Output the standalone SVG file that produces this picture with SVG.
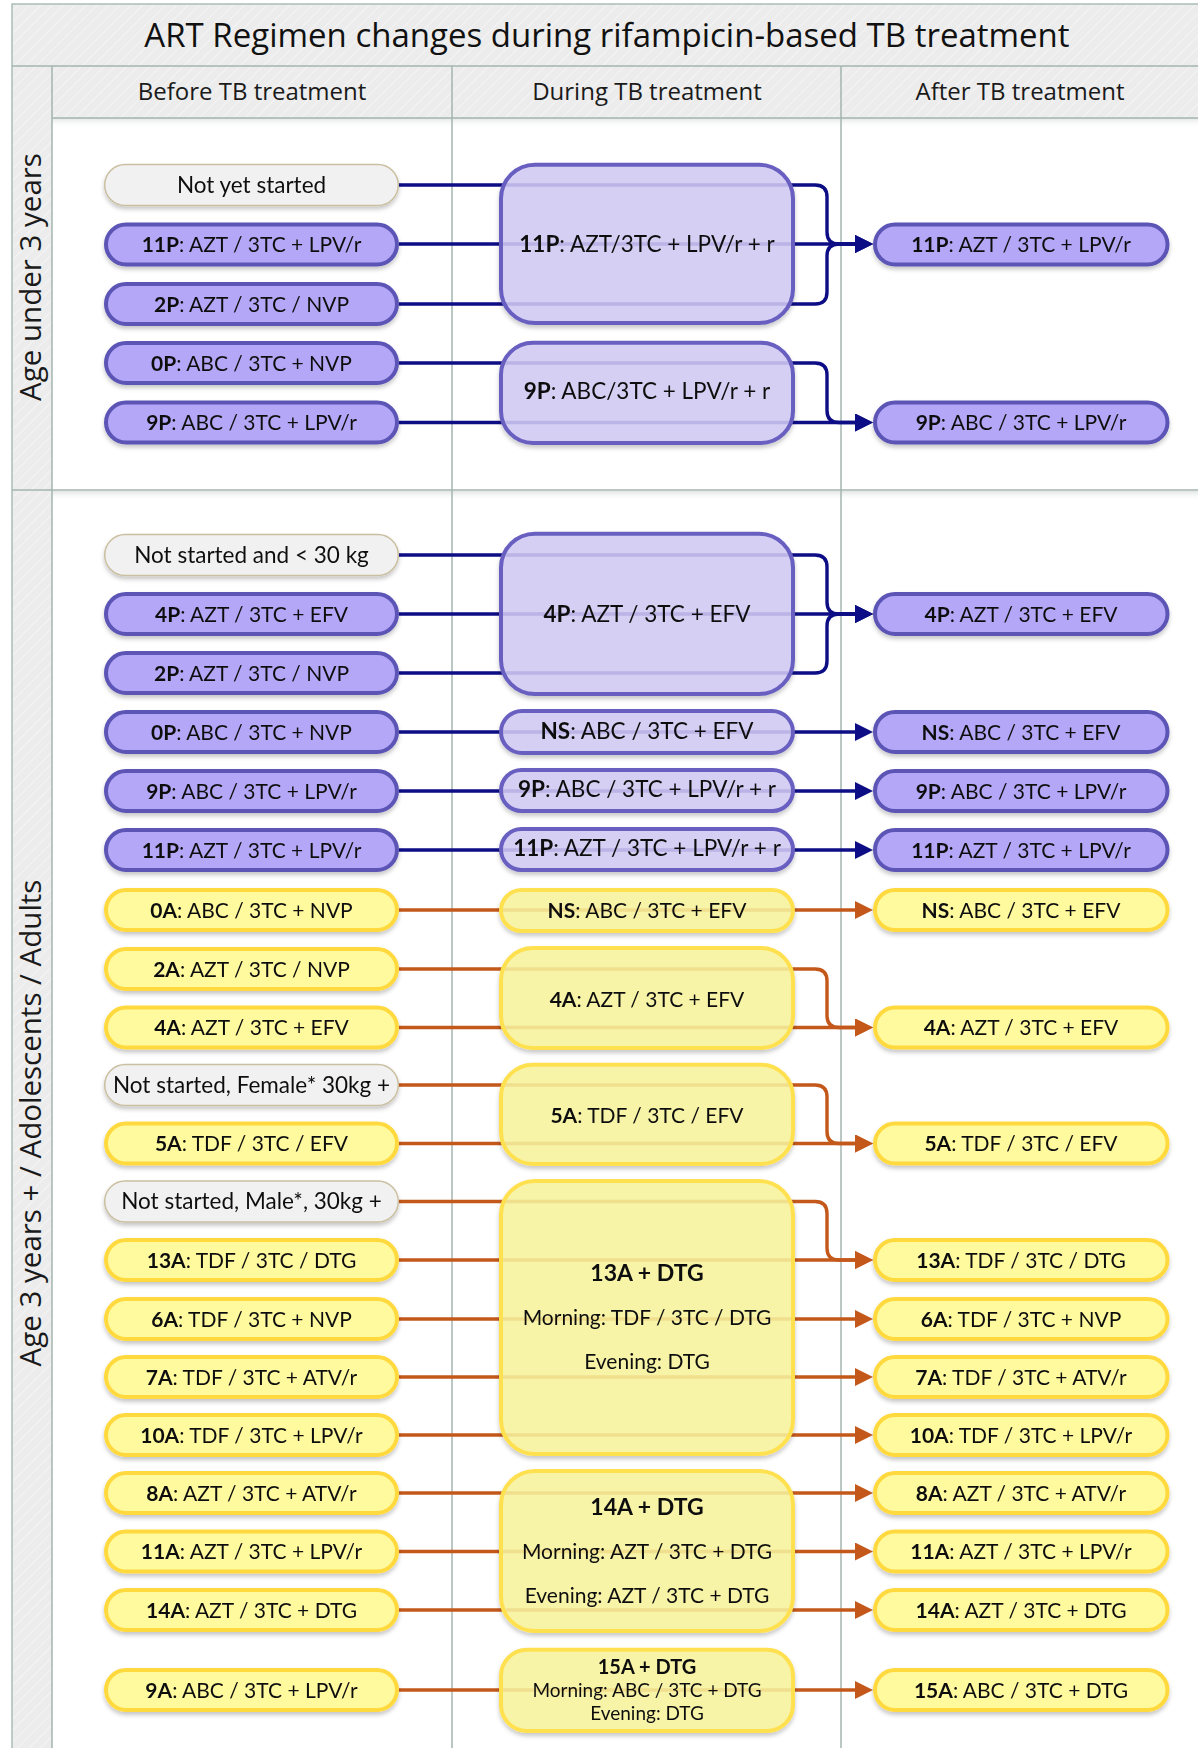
<svg xmlns="http://www.w3.org/2000/svg" width="1198" height="1748" viewBox="0 0 1198 1748">
<style>
.frame{fill:none;stroke:#A9BDB6;stroke-width:1.5}
.div{stroke:#A3B5AF;stroke-width:1.5}
.ttl{font-family:"Open Sans","DejaVu Sans",sans-serif;font-size:33px;fill:#111;text-anchor:middle}
.hdr{font-family:"Open Sans","DejaVu Sans",sans-serif;font-size:24px;fill:#1a1a1a;text-anchor:middle}
.lane{font-family:"Open Sans","DejaVu Sans",sans-serif;font-size:29.5px;fill:#1a1a1a;text-anchor:middle}
.t{font-family:Lato,"Liberation Sans",sans-serif;font-size:21px;fill:#111;text-anchor:middle}
.tg{font-size:22.5px}
.tm{font-size:22.5px}
.th{font-size:23px;font-weight:bold}
.ts{font-size:19px}
.ths{font-size:20px;font-weight:bold}
.b{font-weight:bold}
.pp{fill:#B4A7F8;stroke:#5B54B5;stroke-width:4}
.pm{fill:#D4CCF6;fill-opacity:0.86;stroke:#675FC0;stroke-width:4}
.yp{fill:#FFFA9E;stroke:#FFD93C;stroke-width:4}
.ym{fill:#F9F59E;fill-opacity:0.86;stroke:#FFE050;stroke-width:4}
.gp{fill:#F1F1F1;stroke:#CABFA0;stroke-width:1.5}
.nv{fill:none;stroke:#0D0D85;stroke-width:3.4;marker-end:url(#an)}
.or{fill:none;stroke:#C4581B;stroke-width:3.4;marker-end:url(#ao)}
.sh{filter:url(#shadow)}
</style>
<defs>
<pattern id="hatch" width="8" height="8" patternUnits="userSpaceOnUse" patternTransform="rotate(45)">
<rect width="8" height="8" fill="#ECECEC"/>
<line x1="0" y1="0" x2="0" y2="8" stroke="#F4F4F4" stroke-width="2"/>
</pattern>
<linearGradient id="hsh" x1="0" y1="0" x2="0" y2="1">
<stop offset="0" stop-color="#E2E6E4"/>
<stop offset="1" stop-color="#FFFFFF" stop-opacity="0"/>
</linearGradient>
<marker id="an" viewBox="0 0 10 10" refX="0" refY="5" markerWidth="18" markerHeight="18" markerUnits="userSpaceOnUse" orient="auto">
<path d="M0,0 L10,5 L0,10 z" fill="#0D0D85"/>
</marker>
<marker id="ao" viewBox="0 0 10 10" refX="0" refY="5" markerWidth="18" markerHeight="18" markerUnits="userSpaceOnUse" orient="auto">
<path d="M0,0 L10,5 L0,10 z" fill="#C4581B"/>
</marker>
<filter id="shadow" x="-10%" y="-20%" width="120%" height="150%">
<feDropShadow dx="0" dy="3" stdDeviation="2" flood-color="#000" flood-opacity="0.22"/>
</filter>
</defs>

<rect width="1198" height="1748" fill="#FFFFFF"/>

<g id="swimlanes">
<rect x="12" y="4" width="1186" height="62" fill="url(#hatch)"/>
<rect x="52" y="66" width="1146" height="52" fill="url(#hatch)"/>
<rect x="12" y="66" width="40" height="1682" fill="url(#hatch)"/>
<rect x="52" y="118" width="1146" height="10" fill="url(#hsh)"/>
<rect x="52" y="491" width="1146" height="10" fill="url(#hsh)"/>
<path class="frame" d="M12,1748 V4 H1198"/>
<line class="div" x1="12" y1="66" x2="1198" y2="66"/>
<line class="div" x1="52" y1="118" x2="1198" y2="118"/>
<line class="div" x1="52" y1="66" x2="52" y2="1748"/>
<line class="div" x1="452" y1="66" x2="452" y2="1748"/>
<line class="div" x1="841" y1="66" x2="841" y2="1748"/>
<line class="div" x1="12" y1="490" x2="1198" y2="490"/>
<text class="ttl" x="607" y="47">ART Regimen changes during rifampicin-based TB treatment</text>
<text class="hdr" x="252" y="100">Before TB treatment</text>
<text class="hdr" x="647" y="100">During TB treatment</text>
<text class="hdr" x="1020" y="100">After TB treatment</text>
<text class="lane" transform="translate(41,277) rotate(-90)">Age under 3 years</text>
<text class="lane" transform="translate(41,1123) rotate(-90)">Age 3 years + / Adolescents / Adults</text>
</g>

<g id="connectors">
<path class="nv" d="M399,185 H815 Q827,185 827,197 V232 Q827,244 839,244 H855"/>
<path class="nv" d="M399,244 H855"/>
<path class="nv" d="M399,304 H815 Q827,304 827,292 V256 Q827,244 839,244 H855"/>
<path class="nv" d="M399,363 H815 Q827,363 827,375 V410.5 Q827,422.5 839,422.5 H855"/>
<path class="nv" d="M399,422.5 H855"/>
<path class="nv" d="M399,555 H815 Q827,555 827,567 V602 Q827,614 839,614 H855"/>
<path class="nv" d="M399,614 H855"/>
<path class="nv" d="M399,673 H815 Q827,673 827,661 V626 Q827,614 839,614 H855"/>
<path class="nv" d="M399,732 H855"/>
<path class="nv" d="M399,791 H855"/>
<path class="nv" d="M399,850 H855"/>
<path class="or" d="M399,910 H855"/>
<path class="or" d="M399,969 H815 Q827,969 827,981 V1015.5 Q827,1027.5 839,1027.5 H855"/>
<path class="or" d="M399,1027.5 H855"/>
<path class="or" d="M399,1085 H815 Q827,1085 827,1097 V1131.5 Q827,1143.5 839,1143.5 H855"/>
<path class="or" d="M399,1143.5 H855"/>
<path class="or" d="M399,1201.5 H815 Q827,1201.5 827,1213.5 V1248 Q827,1260 839,1260 H855"/>
<path class="or" d="M399,1260 H855"/>
<path class="or" d="M399,1319 H855"/>
<path class="or" d="M399,1377 H855"/>
<path class="or" d="M399,1435 H855"/>
<path class="or" d="M399,1493 H855"/>
<path class="or" d="M399,1551.5 H855"/>
<path class="or" d="M399,1610 H855"/>
<path class="or" d="M399,1690 H855"/>
</g>

<!-- Before column -->
<g id="b-notyet" class="sh"><rect class="gp" x="104.7" y="164.5" width="293.6" height="41" rx="20.5"/><text class="t tg" x="251.5" y="192.5">Not yet started</text></g>
<g id="b-11p" class="sh"><rect class="pp" x="106" y="224.5" width="291" height="40" rx="20"/><text class="t" x="251.5" y="252"><tspan class="b">11P</tspan>: AZT / 3TC + LPV/r</text></g>
<g id="b-2p" class="sh"><rect class="pp" x="106" y="284" width="291" height="40" rx="20"/><text class="t" x="251.5" y="311.5"><tspan class="b">2P</tspan>: AZT / 3TC / NVP</text></g>
<g id="b-0p" class="sh"><rect class="pp" x="106" y="343" width="291" height="40" rx="20"/><text class="t" x="251.5" y="370.5"><tspan class="b">0P</tspan>: ABC / 3TC + NVP</text></g>
<g id="b-9p" class="sh"><rect class="pp" x="106" y="402.5" width="291" height="40" rx="20"/><text class="t" x="251.5" y="430"><tspan class="b">9P</tspan>: ABC / 3TC + LPV/r</text></g>

<g id="b-ns30" class="sh"><rect class="gp" x="104.7" y="534.5" width="293.6" height="41" rx="20.5"/><text class="t tg" x="251.5" y="562.5">Not started and &lt; 30 kg</text></g>
<g id="b-4p" class="sh"><rect class="pp" x="106" y="594" width="291" height="40" rx="20"/><text class="t" x="251.5" y="621.5"><tspan class="b">4P</tspan>: AZT / 3TC + EFV</text></g>
<g id="b-2p2" class="sh"><rect class="pp" x="106" y="653" width="291" height="40" rx="20"/><text class="t" x="251.5" y="680.5"><tspan class="b">2P</tspan>: AZT / 3TC / NVP</text></g>
<g id="b-0p2" class="sh"><rect class="pp" x="106" y="712" width="291" height="40" rx="20"/><text class="t" x="251.5" y="739.5"><tspan class="b">0P</tspan>: ABC / 3TC + NVP</text></g>
<g id="b-9p2" class="sh"><rect class="pp" x="106" y="771" width="291" height="40" rx="20"/><text class="t" x="251.5" y="798.5"><tspan class="b">9P</tspan>: ABC / 3TC + LPV/r</text></g>
<g id="b-11p2" class="sh"><rect class="pp" x="106" y="830" width="291" height="40" rx="20"/><text class="t" x="251.5" y="857.5"><tspan class="b">11P</tspan>: AZT / 3TC + LPV/r</text></g>

<g id="b-0a" class="sh"><rect class="yp" x="106" y="890" width="291" height="40" rx="20"/><text class="t" x="251.5" y="917.5"><tspan class="b">0A</tspan>: ABC / 3TC + NVP</text></g>
<g id="b-2a" class="sh"><rect class="yp" x="106" y="949" width="291" height="40" rx="20"/><text class="t" x="251.5" y="976.5"><tspan class="b">2A</tspan>: AZT / 3TC / NVP</text></g>
<g id="b-4a" class="sh"><rect class="yp" x="106" y="1007.5" width="291" height="40" rx="20"/><text class="t" x="251.5" y="1035"><tspan class="b">4A</tspan>: AZT / 3TC + EFV</text></g>
<g id="b-nsf" class="sh"><rect class="gp" x="104.7" y="1064.5" width="293.6" height="41" rx="20.5"/><text class="t tg" x="251.5" y="1092.5">Not started, Female* 30kg +</text></g>
<g id="b-5a" class="sh"><rect class="yp" x="106" y="1123.5" width="291" height="40" rx="20"/><text class="t" x="251.5" y="1151"><tspan class="b">5A</tspan>: TDF / 3TC / EFV</text></g>
<g id="b-nsm" class="sh"><rect class="gp" x="104.7" y="1181" width="293.6" height="41" rx="20.5"/><text class="t tg" x="251.5" y="1209">Not started, Male*, 30kg +</text></g>
<g id="b-13a" class="sh"><rect class="yp" x="106" y="1240" width="291" height="40" rx="20"/><text class="t" x="251.5" y="1267.5"><tspan class="b">13A</tspan>: TDF / 3TC / DTG</text></g>
<g id="b-6a" class="sh"><rect class="yp" x="106" y="1299" width="291" height="40" rx="20"/><text class="t" x="251.5" y="1326.5"><tspan class="b">6A</tspan>: TDF / 3TC + NVP</text></g>
<g id="b-7a" class="sh"><rect class="yp" x="106" y="1357" width="291" height="40" rx="20"/><text class="t" x="251.5" y="1384.5"><tspan class="b">7A</tspan>: TDF / 3TC + ATV/r</text></g>
<g id="b-10a" class="sh"><rect class="yp" x="106" y="1415" width="291" height="40" rx="20"/><text class="t" x="251.5" y="1442.5"><tspan class="b">10A</tspan>: TDF / 3TC + LPV/r</text></g>
<g id="b-8a" class="sh"><rect class="yp" x="106" y="1473" width="291" height="40" rx="20"/><text class="t" x="251.5" y="1500.5"><tspan class="b">8A</tspan>: AZT / 3TC + ATV/r</text></g>
<g id="b-11a" class="sh"><rect class="yp" x="106" y="1531.5" width="291" height="40" rx="20"/><text class="t" x="251.5" y="1559"><tspan class="b">11A</tspan>: AZT / 3TC + LPV/r</text></g>
<g id="b-14a" class="sh"><rect class="yp" x="106" y="1590" width="291" height="40" rx="20"/><text class="t" x="251.5" y="1617.5"><tspan class="b">14A</tspan>: AZT / 3TC + DTG</text></g>
<g id="b-9a" class="sh"><rect class="yp" x="106" y="1670" width="291" height="40" rx="20"/><text class="t" x="251.5" y="1697.5"><tspan class="b">9A</tspan>: ABC / 3TC + LPV/r</text></g>

<!-- During column -->
<g id="d-11p" class="sh"><rect class="pm" x="501" y="164.7" width="292" height="158.3" rx="34"/><text class="t tm" x="647" y="251.5"><tspan class="b">11P</tspan>: AZT/3TC + LPV/r + r</text></g>
<g id="d-9p" class="sh"><rect class="pm" x="501" y="342.7" width="292" height="100.3" rx="32"/><text class="t tm" x="647" y="398.5"><tspan class="b">9P</tspan>: ABC/3TC + LPV/r + r</text></g>
<g id="d-4p" class="sh"><rect class="pm" x="501" y="533.7" width="292" height="160.3" rx="34"/><text class="t tm" x="647" y="621.5"><tspan class="b">4P</tspan>: AZT / 3TC + EFV</text></g>
<g id="d-ns" class="sh"><rect class="pm" x="501" y="711" width="292" height="42" rx="21"/><text class="t tm" x="647" y="738.5"><tspan class="b">NS</tspan>: ABC / 3TC + EFV</text></g>
<g id="d-9p2" class="sh"><rect class="pm" x="501" y="770" width="292" height="41" rx="20.5"/><text class="t tm" x="647" y="797"><tspan class="b">9P</tspan>: ABC / 3TC + LPV/r + r</text></g>
<g id="d-11p2" class="sh"><rect class="pm" x="501" y="829" width="292" height="41" rx="20.5"/><text class="t tm" x="647" y="856"><tspan class="b">11P</tspan>: AZT / 3TC + LPV/r + r</text></g>
<g id="d-ns-y" class="sh"><rect class="ym" x="501" y="890" width="292" height="41" rx="20.5"/><text class="t" x="647" y="917.5"><tspan class="b">NS</tspan>: ABC / 3TC + EFV</text></g>
<g id="d-4a" class="sh"><rect class="ym" x="501" y="948" width="292" height="100" rx="32"/><text class="t" x="647" y="1006.5"><tspan class="b">4A</tspan>: AZT / 3TC + EFV</text></g>
<g id="d-5a" class="sh"><rect class="ym" x="501" y="1064.7" width="292" height="99.3" rx="32"/><text class="t" x="647" y="1122.5"><tspan class="b">5A</tspan>: TDF / 3TC / EFV</text></g>
<g id="d-13a" class="sh"><rect class="ym" x="501" y="1181" width="292" height="273" rx="34"/><text class="t th" x="647" y="1281">13A + DTG</text><text class="t" x="647" y="1324.5">Morning: TDF / 3TC / DTG</text><text class="t" x="647" y="1368.5">Evening: DTG</text></g>
<g id="d-14a" class="sh"><rect class="ym" x="501" y="1471" width="292" height="160" rx="34"/><text class="t th" x="647" y="1515">14A + DTG</text><text class="t" x="647" y="1559">Morning: AZT / 3TC + DTG</text><text class="t" x="647" y="1602.5">Evening: AZT / 3TC + DTG</text></g>
<g id="d-15a" class="sh"><rect class="ym" x="501" y="1649.7" width="292" height="81.3" rx="26"/><text class="t ths" x="647" y="1673.5">15A + DTG</text><text class="t ts" x="647" y="1697">Morning: ABC / 3TC + DTG</text><text class="t ts" x="647" y="1720">Evening: DTG</text></g>

<!-- After column -->
<g id="a-11p" class="sh"><rect class="pp" x="875" y="224.5" width="292.5" height="40" rx="20"/><text class="t" x="1021" y="252"><tspan class="b">11P</tspan>: AZT / 3TC + LPV/r</text></g>
<g id="a-9p" class="sh"><rect class="pp" x="875" y="402.5" width="292.5" height="40" rx="20"/><text class="t" x="1021" y="430"><tspan class="b">9P</tspan>: ABC / 3TC + LPV/r</text></g>
<g id="a-4p" class="sh"><rect class="pp" x="875" y="594" width="292.5" height="40" rx="20"/><text class="t" x="1021" y="621.5"><tspan class="b">4P</tspan>: AZT / 3TC + EFV</text></g>
<g id="a-ns" class="sh"><rect class="pp" x="875" y="712" width="292.5" height="40" rx="20"/><text class="t" x="1021" y="739.5"><tspan class="b">NS</tspan>: ABC / 3TC + EFV</text></g>
<g id="a-9p2" class="sh"><rect class="pp" x="875" y="771" width="292.5" height="40" rx="20"/><text class="t" x="1021" y="798.5"><tspan class="b">9P</tspan>: ABC / 3TC + LPV/r</text></g>
<g id="a-11p2" class="sh"><rect class="pp" x="875" y="830" width="292.5" height="40" rx="20"/><text class="t" x="1021" y="857.5"><tspan class="b">11P</tspan>: AZT / 3TC + LPV/r</text></g>
<g id="a-ns-y" class="sh"><rect class="yp" x="875" y="890" width="292.5" height="40" rx="20"/><text class="t" x="1021" y="917.5"><tspan class="b">NS</tspan>: ABC / 3TC + EFV</text></g>
<g id="a-4a" class="sh"><rect class="yp" x="875" y="1007.5" width="292.5" height="40" rx="20"/><text class="t" x="1021" y="1035"><tspan class="b">4A</tspan>: AZT / 3TC + EFV</text></g>
<g id="a-5a" class="sh"><rect class="yp" x="875" y="1123.5" width="292.5" height="40" rx="20"/><text class="t" x="1021" y="1151"><tspan class="b">5A</tspan>: TDF / 3TC / EFV</text></g>
<g id="a-13a" class="sh"><rect class="yp" x="875" y="1240" width="292.5" height="40" rx="20"/><text class="t" x="1021" y="1267.5"><tspan class="b">13A</tspan>: TDF / 3TC / DTG</text></g>
<g id="a-6a" class="sh"><rect class="yp" x="875" y="1299" width="292.5" height="40" rx="20"/><text class="t" x="1021" y="1326.5"><tspan class="b">6A</tspan>: TDF / 3TC + NVP</text></g>
<g id="a-7a" class="sh"><rect class="yp" x="875" y="1357" width="292.5" height="40" rx="20"/><text class="t" x="1021" y="1384.5"><tspan class="b">7A</tspan>: TDF / 3TC + ATV/r</text></g>
<g id="a-10a" class="sh"><rect class="yp" x="875" y="1415" width="292.5" height="40" rx="20"/><text class="t" x="1021" y="1442.5"><tspan class="b">10A</tspan>: TDF / 3TC + LPV/r</text></g>
<g id="a-8a" class="sh"><rect class="yp" x="875" y="1473" width="292.5" height="40" rx="20"/><text class="t" x="1021" y="1500.5"><tspan class="b">8A</tspan>: AZT / 3TC + ATV/r</text></g>
<g id="a-11a" class="sh"><rect class="yp" x="875" y="1531.5" width="292.5" height="40" rx="20"/><text class="t" x="1021" y="1559"><tspan class="b">11A</tspan>: AZT / 3TC + LPV/r</text></g>
<g id="a-14a" class="sh"><rect class="yp" x="875" y="1590" width="292.5" height="40" rx="20"/><text class="t" x="1021" y="1617.5"><tspan class="b">14A</tspan>: AZT / 3TC + DTG</text></g>
<g id="a-15a" class="sh"><rect class="yp" x="875" y="1670" width="292.5" height="40" rx="20"/><text class="t" x="1021" y="1697.5"><tspan class="b">15A</tspan>: ABC / 3TC + DTG</text></g>
</svg>
